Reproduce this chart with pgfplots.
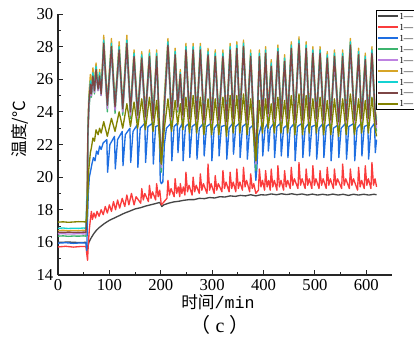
\documentclass[border=0pt]{standalone}
\usepackage{fontspec}
\setmainfont{Liberation Serif}
\newfontfamily\cjk{Noto Sans CJK SC}
\newfontfamily\monofont{Liberation Mono}
\usepackage{pgfplots}
\usepackage{pgfplotstable}
\pgfplotsset{compat=1.18}

\definecolor{cgray}{RGB}{70,70,70}
\definecolor{cred}{RGB}{250,60,60}
\definecolor{cblue}{RGB}{30,110,225}
\definecolor{cgreen}{RGB}{60,180,110}
\definecolor{cpurple}{RGB}{190,130,225}
\definecolor{cgold}{RGB}{215,165,40}
\definecolor{ccyan}{RGB}{20,210,210}
\definecolor{cbrown}{RGB}{125,70,70}
\definecolor{colive}{RGB}{130,130,0}

% top cluster: x green purple gold brown cyan olive
\pgfplotstableread{
x g p au br cy o
0 16.38 16.52 16.72 16.62 16.86 17.24
10 16.40 16.53 16.74 16.61 16.88 17.26
20 16.37 16.51 16.71 16.63 16.85 17.23
30 16.39 16.52 16.73 16.62 16.87 17.25
40 16.38 16.53 16.72 16.61 16.86 17.27
50 16.40 16.52 16.74 16.63 16.88 17.26
54.5 16.38 16.51 16.72 16.62 16.86 17.25
56 17.8 18.0 18.3 18.1 18.8 17.5
57 18.5 18.6 19.5 18.8 18.2 18.0
58 22.0 22.2 23.0 22.5 22.5 19.0
60 24.0 24.2 25.0 24.5 24.6 20.5
63 25.3 25.4 26.3 25.7 25.9 21.5
65 24.9 25.0 25.4 25.1 25.2 21.8
68 25.9 26.0 26.7 26.2 26.4 22.4
71 25.1 25.2 25.6 25.3 25.4 22.2
74 26.3 26.4 27.0 26.6 26.8 22.9
78 25.3 25.3 25.6 25.4 25.5 22.6
81 25.9 26.0 26.6 26.2 26.4 23.0
84 25.0 25.0 25.3 25.1 25.2 22.7
89 27.8 27.9 28.7 28.2 28.4 23.4
96 24.0 24.2 24.6 24.4 24.5 22.5
104 27.7 27.8 28.5 28.0 28.2 23.6
111 23.9 24.1 24.5 24.3 24.4 22.8
119 27.5 27.6 28.3 27.8 28.0 24.0
126 23.8 24.0 24.4 24.2 24.3 23.0
134 27.9 28.0 28.7 28.2 28.4 24.5
141 23.6 23.8 24.2 24.0 24.1 23.1
148 27.1 27.2 27.8 27.4 27.6 24.6
155 23.4 23.6 24.0 23.8 23.9 23.0
163 27.0 27.1 27.7 27.3 27.5 24.8
170 23.3 23.5 23.9 23.7 23.8 22.9
178 27.1 27.2 27.8 27.4 27.6 24.9
185 23.2 23.4 23.8 23.6 23.7 22.8
192 27.1 27.2 27.8 27.4 27.6 24.7
197 23.0 23.2 23.6 23.4 23.5 22.6
201 20.3 20.6 21.0 20.8 20.9 20.8
207 24.0 24.2 25.0 24.4 24.6 23.0
214 27.8 27.9 28.5 28.1 28.3 24.8
221 23.3 23.5 23.9 23.7 23.8 22.8
228 27.2 27.3 27.9 27.5 27.7 24.7
233 24.0 24.1 24.5 24.3 24.4 23.2
238 26.0 26.1 26.6 26.3 26.4 24.5
243 23.4 23.6 24.0 23.8 23.9 22.9
249 27.5 27.6 28.2 27.8 28.0 24.9
256 23.2 23.4 23.8 23.6 23.7 22.7
263 27.5 27.6 28.2 27.8 28.0 25.0
270 23.2 23.4 23.8 23.6 23.7 22.7
277 27.5 27.6 28.2 27.8 28.0 24.9
284 23.1 23.3 23.7 23.5 23.6 22.6
292 27.2 27.3 27.9 27.5 27.7 24.8
299 23.1 23.3 23.7 23.5 23.6 22.6
306 27.1 27.2 27.8 27.4 27.6 24.8
313 23.1 23.3 23.7 23.5 23.6 22.6
321 27.1 27.2 27.8 27.4 27.6 24.9
328 23.0 23.2 23.6 23.4 23.5 22.5
335 27.5 27.6 28.2 27.8 28.0 25.0
341 23.2 23.4 23.8 23.6 23.7 22.7
348 27.6 27.7 28.3 27.9 28.1 25.0
354 23.2 23.4 23.8 23.6 23.7 22.7
361 27.7 27.8 28.4 28.0 28.2 25.1
368 23.1 23.3 23.7 23.5 23.6 22.6
375 27.1 27.2 27.8 27.4 27.6 24.8
381 23.0 23.2 23.6 23.4 23.5 22.4
385 20.4 20.8 21.4 21.0 21.2 21.0
392 27.1 27.2 27.8 27.4 27.6 24.7
398 23.2 23.4 23.8 23.6 23.7 22.7
404 27.3 27.4 28.0 27.6 27.8 24.8
409 23.5 23.7 24.1 23.9 24.0 23.0
415 26.5 26.6 27.2 26.8 27.0 24.5
421 23.2 23.4 23.8 23.6 23.7 22.7
428 27.4 27.5 28.1 27.7 27.9 24.9
434 23.2 23.4 23.8 23.6 23.7 22.7
441 26.8 26.9 27.5 27.1 27.3 24.7
447 23.2 23.4 23.8 23.6 23.7 22.7
454 27.6 27.7 28.3 27.9 28.1 25.0
461 23.1 23.3 23.7 23.5 23.6 22.6
469 27.9 28.0 28.6 28.2 28.4 25.1
476 23.1 23.3 23.7 23.5 23.6 22.6
483 27.6 27.7 28.3 27.9 28.1 25.0
489 23.2 23.4 23.8 23.6 23.7 22.7
496 27.3 27.4 28.0 27.6 27.8 24.8
503 23.2 23.4 23.8 23.6 23.7 22.7
510 27.3 27.4 28.0 27.6 27.8 24.9
517 23.1 23.3 23.7 23.5 23.6 22.6
524 27.0 27.1 27.7 27.3 27.5 24.7
531 23.1 23.3 23.7 23.5 23.6 22.6
538 27.1 27.2 27.8 27.4 27.6 24.8
546 23.0 23.2 23.6 23.4 23.5 22.5
554 27.1 27.2 27.8 27.4 27.6 24.8
561 23.1 23.3 23.7 23.5 23.6 22.6
569 27.8 27.9 28.5 28.1 28.3 25.1
577 23.1 23.3 23.7 23.5 23.6 22.6
585 27.2 27.3 27.9 27.5 27.7 24.8
591 23.2 23.4 23.8 23.6 23.7 22.7
598 26.9 27.0 27.6 27.2 27.4 24.7
604 23.2 23.4 23.8 23.6 23.7 22.7
611 27.3 27.4 28.0 27.6 27.8 24.9
617 23.6 23.8 24.2 24.0 24.1 23.0
620 22.8 23.0 23.6 23.2 23.4 22.5
}\toptable

\pgfplotstableread{
x y
0 15.95
15 15.98
30 15.94
45 15.97
54.5 15.96
56 15.5
57 17.0
59 19.0
61 20.0
63 20.3
66 20.8
69 21.2
72 21.0
75 21.6
78 21.4
81 21.9
84 21.7
88 22.1
95 22.3
96.5 20.3
101 22.0
110 22.5
111.5 20.5
116 22.3
125 22.8
126.5 20.7
131 22.6
140 23.0
141.5 20.9
146 22.8
154 23.2
155.5 20.6
160 23.0
169 23.3
170.5 20.9
175 23.1
184 23.3
185.5 20.8
190 23.1
197 23.2
199 19.8
201 19.6
204 19.7
207 22.0
211 23.0
220 23.3
221.5 21.0
226 23.1
232 23.3
233.5 21.5
237 23.0
242 23.3
243.5 21.0
248 23.1
255 23.3
256.5 21.2
261 23.1
269 23.3
270.5 21.1
275 23.0
283 23.3
284.5 21.3
289 23.1
298 23.3
299.5 21.0
304 23.0
312 23.3
313.5 21.3
318 23.1
327 23.2
328.5 21.1
333 23.0
340 23.3
341.5 21.4
346 23.1
353 23.3
354.5 21.2
359 23.1
367 23.3
368.5 21.1
373 23.0
380 23.2
383 21.0
385 19.8
387 20.5
390 22.5
397 23.3
398.5 21.3
403 23.0
408 23.3
409.5 21.6
413 23.0
420 23.3
421.5 21.2
426 23.1
433 23.3
434.5 21.3
439 23.0
446 23.2
447.5 21.2
452 23.0
460 23.3
461.5 21.0
466 23.1
475 23.3
476.5 21.2
481 23.0
488 23.3
489.5 21.3
494 23.1
502 23.2
503.5 21.1
508 23.0
516 23.3
517.5 21.2
522 23.1
530 23.3
531.5 21.0
536 23.0
545 23.2
546.5 21.2
551 23.0
560 23.3
561.5 21.1
566 23.1
576 23.3
577.5 21.0
582 23.0
590 23.3
591.5 21.3
596 23.1
603 23.2
604.5 21.1
609 23.0
616 23.3
617.5 21.5
620 22.3
}\bluetable

\pgfplotstableread{
x y
0 15.72
15 15.76
30 15.71
45 15.75
54.5 15.74
56 15.3
57.5 14.9
59 15.9
61 16.8
63 17.4
65 17.9
67 17.4
70 17.8
73 17.5
76 17.9
80 17.6
84 18.0
88 17.7
92 18.2
96 17.8
100 18.3
104 17.9
108 18.5
112 18.0
116 18.6
120 18.1
125 18.7
130 18.2
134 18.9
138 18.3
143 19.0
148 18.3
152 18.8
161 18.4
163 19.3
166 18.6
169 19.0
176 18.5
178 19.5
181 18.7
184 19.1
190 18.6
192 19.6
195 18.8
198 19.2
201 18.3
204 18.4
212 18.7
214 19.8
217 18.9
220 19.3
226 18.8
228 19.9
231 19.0
234 19.4
237 18.8
238 19.6
241 19.0
244 19.4
247 18.9
249 20.3
252 19.1
255 19.5
261 18.9
263 20.0
266 19.1
269 19.5
275 19.0
277 20.2
280 19.2
283 19.6
290 19.0
292 20.8
295 19.2
298 19.6
304 19.0
306 20.1
309 19.2
312 19.6
319 19.1
321 20.4
324 19.3
327 19.7
333 19.1
335 20.3
338 19.3
341 19.7
346 19.1
348 20.5
351 19.3
354 19.7
359 19.2
361 20.6
364 19.4
367 19.8
373 19.1
375 20.2
378 19.3
381 19.6
385 19.0
390 19.2
392 20.5
395 19.4
398 19.8
402 19.2
404 20.4
407 19.4
410 19.8
413 19.2
415 20.5
418 19.4
421 19.8
426 19.2
428 20.7
431 19.4
434 19.8
439 19.2
441 20.4
444 19.4
447 19.8
452 19.3
454 20.6
457 19.5
460 19.9
467 19.3
469 20.9
472 19.5
475 19.9
481 19.3
483 20.5
486 19.5
489 19.9
494 19.3
496 20.7
499 19.5
502 19.9
508 19.3
510 20.4
513 19.5
516 19.9
522 19.3
524 20.6
527 19.5
530 19.9
536 19.3
538 20.5
541 19.5
544 19.9
552 19.3
554 20.8
557 19.5
560 19.9
567 19.3
569 20.5
572 19.5
575 19.9
583 19.2
585 20.6
588 19.4
591 19.8
596 19.3
598 20.7
601 19.5
604 19.9
609 19.3
611 20.9
614 19.5
617 19.9
620 19.4
}\redtable

\pgfplotstableread{
x y
0 16.00
20 16.02
40 15.99
54.5 16.00
55.5 15.7
56.5 15.45
58 15.7
60 16.0
65 16.3
70 16.55
75 16.75
80 16.9
90 17.15
100 17.35
110 17.5
120 17.65
130 17.8
140 17.92
150 18.05
160 18.12
170 18.22
180 18.3
190 18.38
198 18.45
202 18.2
206 18.3
215 18.4
225 18.48
235 18.52
245 18.58
255 18.62
265 18.62
275 18.7
285 18.68
295 18.75
305 18.72
315 18.8
325 18.78
335 18.85
345 18.82
355 18.88
365 18.85
375 18.92
385 18.85
395 18.92
405 18.9
415 18.97
425 18.92
435 18.98
445 18.93
455 18.98
465 18.92
475 18.97
485 18.9
495 18.96
505 18.9
515 18.95
525 18.9
535 18.96
545 18.9
555 18.95
565 18.88
575 18.95
585 18.9
595 18.95
605 18.9
615 18.95
620 18.92
}\graytable

\begin{document}
\begin{tikzpicture}
\useasboundingbox (-43.5pt,-53.25pt) rectangle (267pt,206.25pt);
\clip (-43.5pt,-53.25pt) rectangle (267pt,206.25pt);
\begin{axis}[
  at={(0pt,0pt)}, anchor=south west,
  scale only axis, width=250.5pt, height=195.75pt,
  xmin=0, xmax=650, ymin=14, ymax=30,
  xtick={0,100,...,600}, ytick={14,16,...,30},
  minor x tick num=1, minor y tick num=1,
  axis lines=left,
  axis line style={-, line width=0.8pt, black!85},
  tick align=inside,
  major tick length=3.5pt, minor tick length=2pt,
  tick style={line width=0.7pt, black!85},
  /pgf/number format/assume math mode=true,
  tick label style={font=\fontsize{12.5}{13}\selectfont},
  xlabel={{\cjk 时间}{\monofont /min}},
  ylabel={{\cjk 温度/°C}},
  label style={font=\fontsize{12.5}{13}\selectfont},
  xlabel style={at={(rel axis cs:0.479,-0.103)}, anchor=center},
  ylabel style={at={(rel axis cs:-0.114,0.559)}, anchor=center},
  every axis plot/.append style={line width=1pt, line join=round, mark=none},
  legend style={at={(rel axis cs:0.952,1.015)}, anchor=north west,
    draw=black, line width=0.6pt, fill=white, inner sep=0.3pt,
    font=\fontsize{7}{7}\selectfont, row sep=0pt,
    nodes={inner sep=0.6pt, text height=5.8pt, text depth=1.2pt}},
  legend cell align=left,
  legend image code/.code={\draw[#1, line width=1.3pt] (-0.5pt,0pt) -- (14.5pt,0pt);},
]
\addplot[cgray] table[x=x,y=y] {\graytable};
\addlegendentry{1—}
\addplot[cred] table[x=x,y=y] {\redtable};
\addlegendentry{1—}
\addplot[cblue] table[x=x,y=y] {\bluetable};
\addlegendentry{1—}
\addplot[cgreen] table[x=x,y=g] {\toptable};
\addlegendentry{1—}
\addplot[cpurple] table[x=x,y=p] {\toptable};
\addlegendentry{1—}
\addplot[cgold] table[x=x,y=au] {\toptable};
\addlegendentry{1—}
\addplot[ccyan] table[x=x,y=cy] {\toptable};
\addlegendentry{1—}
\addplot[cbrown] table[x=x,y=br] {\toptable};
\addlegendentry{1—}
\addplot[colive] table[x=x,y=o] {\toptable};
\addlegendentry{1—}
\end{axis}
\node[font=\fontsize{15}{16}\selectfont] at (121.5pt,-37.2pt) {{\cjk （}\hspace{4pt}c\hspace{4pt}{\cjk ）}};
\end{tikzpicture}
\end{document}
